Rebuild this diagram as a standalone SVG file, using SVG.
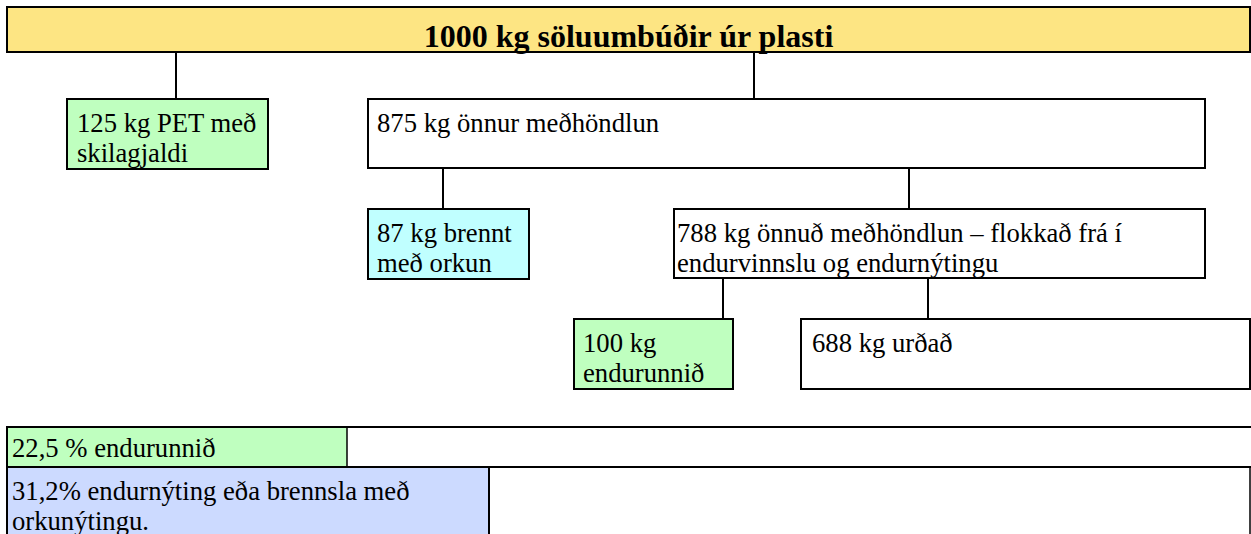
<svg xmlns="http://www.w3.org/2000/svg" width="1251" height="534" viewBox="0 0 1251 534">
<style>
text{font-family:"Liberation Serif","Times New Roman",serif;font-size:26.67px;fill:#000}
.title{font-weight:bold;font-size:32px}
.box{stroke:#000;stroke-width:2}
.white{fill:#fff}
.green{fill:#bfffbf}
.cyan{fill:#c0ffff}
.yellow{fill:#fde583}
.blue{fill:#ccdaff}
.conn line{stroke:#000;stroke-width:2}
.tbl{stroke:#000;stroke-width:2}
.thin{stroke:#000;stroke-width:1.5}
</style>
<rect width="1251" height="534" fill="#fff"/>
<g id="connectors" class="conn">
<line x1="176" y1="52" x2="176" y2="100"/>
<line x1="754" y1="52" x2="754" y2="100"/>
<line x1="443" y1="168" x2="443" y2="209"/>
<line x1="909" y1="168" x2="909" y2="209"/>
<line x1="723" y1="278" x2="723" y2="319"/>
<line x1="928" y1="278" x2="928" y2="319"/>
</g>
<g id="n-title">
<rect class="box yellow" x="7" y="7" width="1243" height="45"/>
<text class="title" x="628.5" y="47" text-anchor="middle">1000 kg söluumbúðir úr plasti</text>
</g>
<g id="n-pet">
<rect class="box green" x="67" y="99" width="201" height="70"/>
<text x="77" y="132">125 kg PET með</text>
<text x="77" y="162">skilagjaldi</text>
</g>
<g id="n-875">
<rect class="box white" x="368" y="99" width="837" height="69"/>
<text x="377" y="132">875 kg önnur meðhöndlun</text>
</g>
<g id="n-87">
<rect class="box cyan" x="368" y="209" width="161" height="70"/>
<text x="377" y="242">87 kg brennt</text>
<text x="377" y="272">með orkun</text>
</g>
<g id="n-788">
<rect class="box white" x="674" y="209" width="531" height="69"/>
<text x="677" y="242">788 kg önnuð meðhöndlun – flokkað frá í</text>
<text x="677" y="272">endurvinnslu og endurnýtingu</text>
</g>
<g id="n-100">
<rect class="box green" x="574" y="319" width="159" height="70"/>
<text x="583" y="352">100 kg</text>
<text x="583" y="382">endurunnið</text>
</g>
<g id="n-688">
<rect class="box white" x="801" y="319" width="449" height="70"/>
<text x="812" y="352">688 kg urðað</text>
</g>
<g id="table">
<rect class="green" x="7" y="427" width="340" height="40"/>
<rect class="blue" x="7" y="467" width="482" height="70"/>
<line class="tbl" x1="6" y1="427" x2="1251" y2="427"/>
<line class="tbl" x1="6" y1="467" x2="1251" y2="467"/>
<line class="tbl" x1="7" y1="426" x2="7" y2="534"/>
<line class="thin" x1="347" y1="427" x2="347" y2="467"/>
<line class="tbl" x1="489" y1="467" x2="489" y2="534"/>
<line class="thin" x1="1250" y1="467" x2="1250" y2="534"/>
<text x="12" y="457">22,5 % endurunnið</text>
<text x="12" y="500">31,2% endurnýting eða brennsla með</text>
<text x="12" y="530">orkunýtingu.</text>
</g>
</svg>
